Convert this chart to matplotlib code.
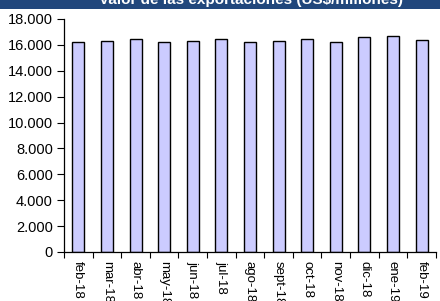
import matplotlib
matplotlib.use("Agg")
import matplotlib.pyplot as plt
from matplotlib.patches import Rectangle
from matplotlib.ticker import FuncFormatter, MultipleLocator, FixedLocator

categories = ["feb-18", "mar-18", "abr-18", "may-18", "jun-18", "jul-18", "ago-18",
              "sept-18", "oct-18", "nov-18", "dic-18", "ene-19", "feb-19"]
values = [16230, 16280, 16450, 16230, 16280, 16420, 16230,
          16280, 16420, 16230, 16600, 16690, 16400]

plt.rcParams['font.family'] = ['Liberation Sans', 'DejaVu Sans']

fig = plt.figure(figsize=(4.40, 3.01), dpi=100)
ax = fig.add_axes([0.1455, 0.163, 0.845, 0.774])

x = list(range(len(categories)))
ax.bar(x, values, width=0.42, color="#CCCCFF", edgecolor="black", linewidth=1.0)

ax.set_xlim(-0.5, len(categories) - 0.5)
ax.set_ylim(0, 18000)
ax.yaxis.set_major_locator(MultipleLocator(2000))
ax.yaxis.set_major_formatter(FuncFormatter(lambda v, p: f"{int(v):,}".replace(",", ".")))
ax.tick_params(axis="y", labelsize=10.5, length=5, direction="out", width=0.8, pad=3)

ax.xaxis.set_major_locator(FixedLocator([i - 0.5 for i in range(len(categories) + 1)]))
ax.xaxis.set_major_formatter(FuncFormatter(lambda v, p: ""))
ax.tick_params(axis="x", length=4, direction="out", width=0.8)
for i, c in enumerate(categories):
    ax.text(i, -700, c, rotation=-90, ha="center", va="top", fontsize=9.5,
            transform=ax.transData, clip_on=False)

for s in ["top", "right"]:
    ax.spines[s].set_visible(False)
for s in ["left", "bottom"]:
    ax.spines[s].set_linewidth(0.9)

# title band (cut off at the top in the reference)
fig.patches.append(Rectangle((0, 1 - 9 / 301), 1, 9 / 301 + 0.01, transform=fig.transFigure,
                             facecolor="#21477C", edgecolor="none", zorder=0))
fig.text(0.57, 1 - 4 / 301, "Valor de las exportaciones (US$/millones)", color="white",
         fontsize=11, fontweight="bold", ha="center", va="baseline")

fig.savefig("out.png", dpi=100)
